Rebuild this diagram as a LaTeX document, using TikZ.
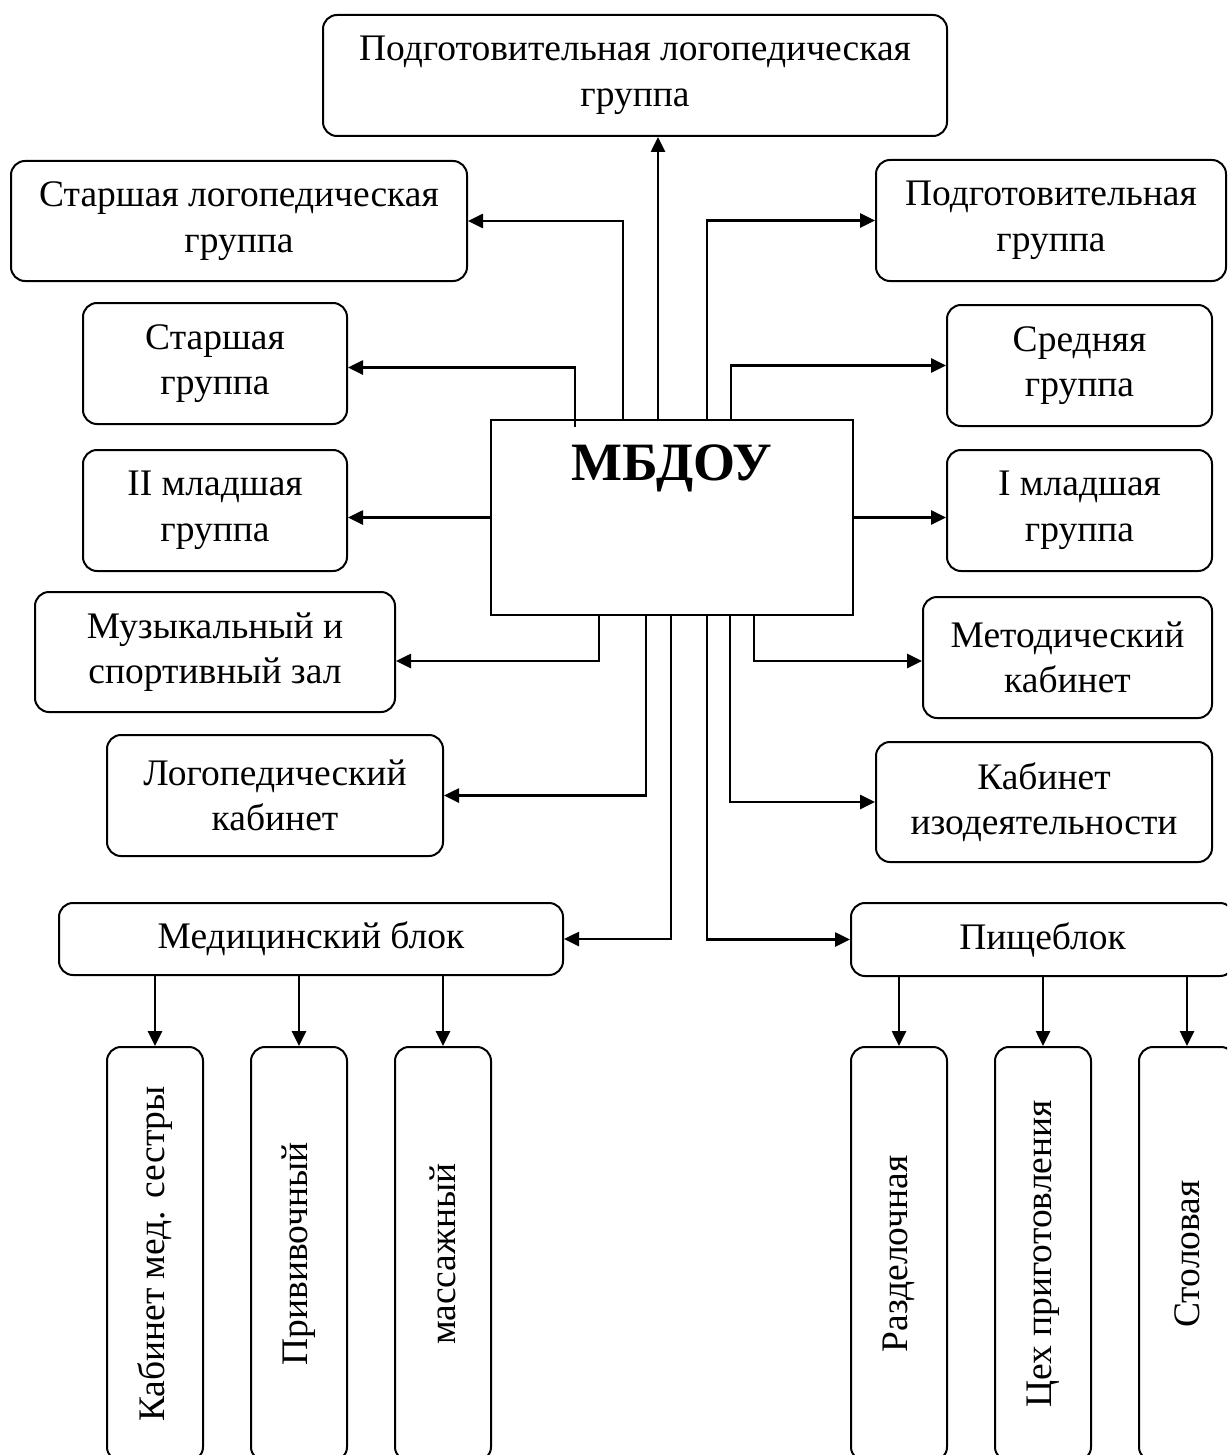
\documentclass[tikz,border=0pt]{standalone}
\usepackage{fontspec}
\setmainfont{Liberation Serif}
\usetikzlibrary{arrows.meta}
\begin{document}
\begin{tikzpicture}[x=1pt,y=-1pt,
  box/.style={draw, line width=2pt, rounded corners=14pt, align=center, inner sep=0pt,
    font=\fontsize{37.5}{45.5}\selectfont},
  vbox/.style={draw, line width=2pt, rounded corners=14pt, inner sep=0pt,
    minimum width=96pt, minimum height=414pt},
  vtext/.style={rotate=90, inner sep=0pt, font=\fontsize{37.5}{45}\selectfont},
  arr/.style={line width=2.6pt, -{Triangle[length=15pt,width=14pt]}}]
\useasboundingbox (0,0) rectangle (1227,1455);
\fill[white] (0,0) rectangle (1227,1455);
\clip (0,0) rectangle (1227,1455);

% group boxes
\node[box, minimum width=624pt, minimum height=121pt] (ppl) at (635,75.5)
  {Подготовительная логопедическая\\группа};
\node[box, minimum width=456pt, minimum height=120pt] (slg) at (239,221)
  {Старшая логопедическая\\группа};
\node[box, minimum width=350pt, minimum height=121pt] (pg) at (1051,220.5)
  {Подготовительная\\группа};
\node[box, minimum width=264pt, minimum height=121pt] (sg) at (215,363.5)
  {Старшая\\группа};
\node[box, minimum width=265pt, minimum height=121pt] (srg) at (1079.5,365.5)
  {Средняя\\группа};
\node[box, minimum width=264pt, minimum height=121pt] (ml2) at (215,510.5)
  {II младшая\\группа};
\node[box, minimum width=265pt, minimum height=121pt] (ml1) at (1079.5,510.5)
  {I младшая\\группа};
\node[box, minimum width=360pt, minimum height=120pt] (muz) at (215,652)
  {Музыкальный и\\спортивный зал};
\node[box, minimum width=289pt, minimum height=121pt] (met) at (1067.5,657.5)
  {Методический\\кабинет};
\node[box, minimum width=336pt, minimum height=121pt] (log) at (275,795.5)
  {Логопедический\\кабинет};
\node[box, minimum width=336pt, minimum height=120pt] (izo) at (1044,802)
  {Кабинет\\изодеятельности};
\node[box, minimum width=504pt, minimum height=72pt] (med) at (311,939)
  {Медицинский блок};
\node[box, minimum width=383pt, minimum height=73pt] (pis) at (1042.5,939.5)
  {Пищеблок};

% central box
\node[draw, line width=2pt, minimum width=362pt, minimum height=195pt, inner sep=0pt] (mbdou) at (672,517.5) {};
\node[inner sep=0pt, font=\fontsize{54}{60}\selectfont\bfseries] (mbdout) at (672,468) {МБДОУ};

% vertical boxes
\node[vbox] (k1) at (155,1254) {};
\node[vbox] (k2) at (299,1254) {};
\node[vbox] (k3) at (443,1254) {};
\node[vbox] (k4) at (899,1254) {};
\node[vbox] (k5) at (1043,1254) {};
\node[vbox] (k6) at (1187,1254) {};
\node[vtext] (t1) at (k1.center) {Кабинет мед. сестры};
\node[vtext] (t2) at (k2.center) {Прививочный};
\node[vtext] (t3) at (k3.center) {массажный};
\node[vtext] (t4) at (k4.center) {Разделочная};
\node[vtext] (t5) at (k5.center) {Цех приготовления};
\node[vtext] (t6) at (k6.center) {Столовая};

% connectors from the top of the central box
\draw[arr] ([xshift=168pt]mbdou.north west) -- ([xshift=168pt]mbdou.north west |- ppl.south);
\draw[arr] ([xshift=133pt]mbdou.north west) |- (slg.east);
\draw[arr] ([xshift=217pt]mbdou.north west) |- (pg.west);
\draw[arr] ([xshift=85pt,yshift=-8pt]mbdou.north west) |- ([yshift=-4pt]sg.east);
\draw[arr] ([xshift=241pt]mbdou.north west) |- (srg.west);
% side connectors
\draw[arr] (mbdou.west) -- (mbdou.west -| ml2.east);
\draw[arr] (mbdou.east) -- (mbdou.east -| ml1.west);
% connectors from the bottom of the central box
\draw[arr] ([xshift=109pt]mbdou.south west) |- ([yshift=-9pt]muz.east);
\draw[arr] ([xshift=264pt]mbdou.south west) |- ([yshift=-3.5pt]met.west);
\draw[arr] ([xshift=156pt]mbdou.south west) |- (log.east);
\draw[arr] ([xshift=240pt]mbdou.south west) |- (izo.west);
\draw[arr] ([xshift=181pt]mbdou.south west) |- (med.east);
\draw[arr] ([xshift=217pt]mbdou.south west) |- (pis.west);

% sub-connectors
\foreach \k in {k1,k2,k3}{\draw[arr] (\k.north |- med.south) -- (\k.north);}
\foreach \k in {k4,k5,k6}{\draw[arr] (\k.north |- pis.south) -- (\k.north);}
\end{tikzpicture}
\end{document}
